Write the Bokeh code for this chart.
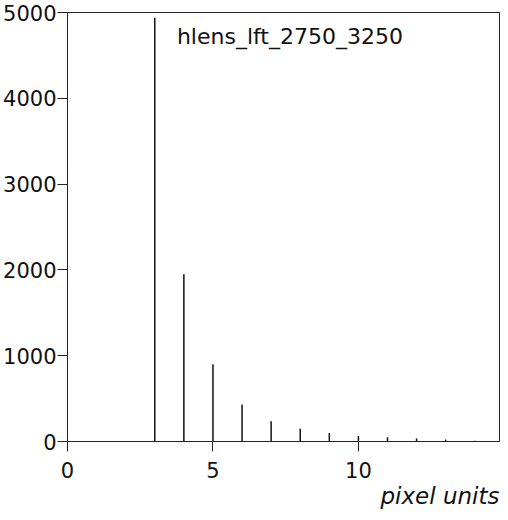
from bokeh.plotting import figure
from bokeh.models import Range1d, FixedTicker, Label, Title
from bokeh.embed import file_html
from bokeh.resources import INLINE

# data
pixel_values = [3, 4, 5, 6, 7, 8, 9, 10, 11, 12, 13, 14]
counts = [4940, 1950, 900, 430, 235, 150, 100, 65, 50, 35, 22, 10]
x_ticks = [0, 5, 10]
y_ticks = [0, 1000, 2000, 3000, 4000, 5000]
series_name = "hlens_lft_2750_3250"
x_label = "pixel units"

FONT = "DejaVu Sans"

p = figure(width=500, height=512, output_backend="svg", toolbar_location=None,
           x_range=Range1d(0, 14.85), y_range=Range1d(0, 5000),
           min_border_left=64, min_border_right=1, min_border_top=12,
           min_border_bottom=71)
p.background_fill_color = "white"
p.border_fill_color = "white"
p.outline_line_color = "#222222"
p.outline_line_width = 1
p.xgrid.visible = False
p.ygrid.visible = False

for ax in (p.xaxis[0], p.yaxis[0]):
    ax.axis_line_color = "#222222"
    ax.major_tick_line_color = "#222222"
    ax.minor_tick_line_color = None
    ax.major_tick_in = 0
    ax.major_label_text_font = FONT
    ax.major_label_text_font_size = "21px"
    ax.major_label_text_color = "#111111"

p.xaxis.ticker = FixedTicker(ticks=x_ticks)
p.yaxis.ticker = FixedTicker(ticks=y_ticks)
p.xaxis.major_tick_out = 10
p.yaxis.major_tick_out = 10
p.xaxis.major_label_standoff = 10
p.yaxis.major_label_standoff = 1

p.segment(x0=pixel_values, y0=[0] * len(pixel_values), x1=pixel_values, y1=counts,
          line_color="#111111", line_width=1.5)

p.add_layout(Label(x=3.76, y=4720, text=series_name, text_font=FONT,
                   text_font_size="22px", text_color="#111111",
                   text_baseline="alphabetic"))

p.add_layout(Title(text=x_label, align="right", text_font=FONT,
                   text_font_style="italic", text_font_size="23px",
                   text_color="#111111", standoff=0), "below")

open("out.html", "w").write(file_html(p, INLINE))
